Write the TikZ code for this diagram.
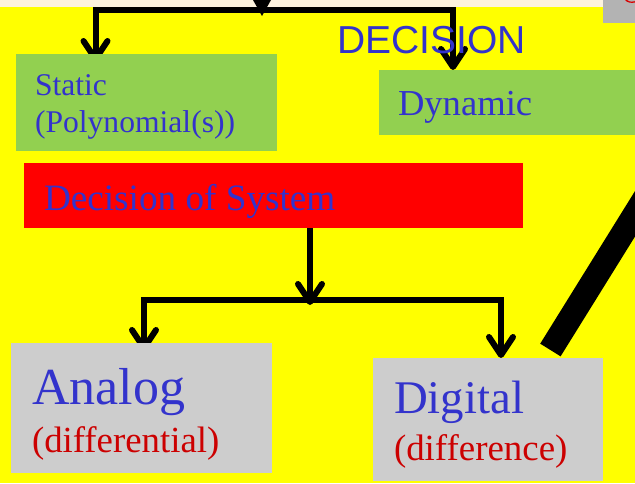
\documentclass[tikz,border=0pt]{standalone}
\usepackage{fontspec}
\setmainfont{Liberation Serif}
\newfontfamily\headfont{Liberation Sans}
\usetikzlibrary{arrows.meta}
\definecolor{pageyellow}{HTML}{FFFF00}
\definecolor{strip}{HTML}{FDF3DF}
\definecolor{boxgreen}{HTML}{92D050}
\definecolor{boxgray}{HTML}{CDCDCD}
\definecolor{tabgray}{HTML}{B3B3B3}
\definecolor{boxred}{HTML}{FF0000}
\definecolor{inkblue}{HTML}{3333CC}
\definecolor{inkred}{HTML}{CC0000}
\pgfdeclarelayer{bg}
\pgfdeclarelayer{links}
\pgfsetlayers{bg,links,main}
\tikzset{
  panel/.style={rectangle, inner sep=0pt, outer sep=0pt, anchor=north west, draw=none},
  txt/.style={anchor=base west, inner sep=0pt, outer sep=0pt},
  link/.style={line width=6pt, black, line join=miter, line cap=butt},
  vtip/.style={-{Straight Barb[length=18pt,width=24pt,round]}},
}
\begin{document}
\begin{tikzpicture}[x=1pt,y=-1pt]
\useasboundingbox (0,0) rectangle (635,483);
\clip (0,0) rectangle (635,483);

% page background
\begin{pgfonlayer}{bg}
  \fill[pageyellow] (0,0) rectangle (635,483);
  \fill[strip] (0,0) rectangle (635,7);
  \fill[tabgray] (603,0) rectangle (635,23);
  \fill[boxred!85!black] (625,0) .. controls (627,2.5) and (631,3.5) .. (635,2.5)
        -- (635,1.2) .. controls (631,2) and (628,1.5) .. (627,0) -- cycle;
\end{pgfonlayer}

% boxes
\node[panel, fill=boxgreen, minimum width=261pt, minimum height=96.5pt] (static) at (16,54) {};
\node[panel, fill=boxgreen, minimum width=270pt, minimum height=64.5pt] (dynamic) at (379,70) {};
\node[panel, fill=boxred, minimum width=499pt, minimum height=65pt] (sys) at (24,163) {};
\node[panel, fill=boxgray, minimum width=261pt, minimum height=129.5pt] (analog) at (11,343) {};
\node[panel, fill=boxgray, minimum width=230pt, minimum height=122.5pt] (digital) at (373,358) {};

% labels
\node[txt, text=inkblue, font=\headfont\fontsize{39}{45}\selectfont] (title) at (337,53) {DECISION};
\node[txt, text=inkblue, font=\fontsize{31.6}{37}\selectfont] (tstatic) at (35,95) {Static};
\node[txt, text=inkblue, font=\fontsize{31.6}{37}\selectfont] (tpoly) at (35,132) {(Polynomial(s))};
\node[txt, text=inkblue, font=\fontsize{36.6}{42}\selectfont] (tdyn) at (398,115) {Dynamic};
\node[txt, text=inkblue, font=\fontsize{37.2}{43}\selectfont] (tsys) at (44,210) {Decision of System};
\node[txt, text=inkblue, font=\fontsize{52}{60}\selectfont] (tanalog) at (32,404) {Analog};
\node[txt, text=inkred, font=\fontsize{36.8}{43}\selectfont] (tdiffl) at (32,452) {(differential)};
\node[txt, text=inkblue, font=\fontsize{46.8}{54}\selectfont] (tdigital) at (394,413) {Digital};
\node[txt, text=inkred, font=\fontsize{36.9}{43}\selectfont] (tdiffc) at (394,460) {(difference)};

% connectors
\begin{pgfonlayer}{links}
  \coordinate (inflow) at (262,-30);
  \coordinate (feed) at (262,10);
  \coordinate (lcol) at (95.5,10);
  \coordinate (rcol) at (453,10);
  \draw[link, -{Triangle[length=16pt,width=18pt,line width=0pt]}] (inflow) -- ([yshift=-6pt]feed);
  \draw[link, vtip, shorten >=-8pt] (feed) -| (static.north -| lcol);
  \draw[link, vtip] (feed) -| (dynamic.north -| rcol);

  \coordinate (split) at (310,300);
  \coordinate (llow) at (144,300);
  \coordinate (rlow) at (501,300);
  \draw[link, vtip, shorten >=-5pt] (sys.south -| split) -- (split);
  \draw[link, vtip, shorten >=-8pt] (split) -| (analog.north -| llow);
  \draw[link, vtip] (split) -| (digital.north -| rlow);

  \coordinate (slashfoot) at (550.4,350);
  \coordinate (slashtop) at (656,180);
  \draw[line width=24pt] (slashfoot) -- (slashtop);
\end{pgfonlayer}
\end{tikzpicture}
\end{document}
